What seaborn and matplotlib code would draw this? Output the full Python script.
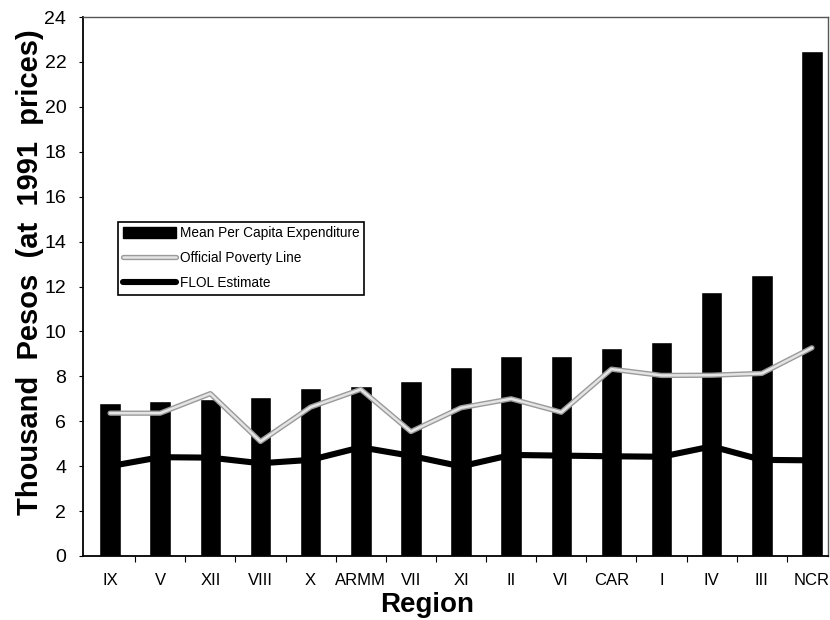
import matplotlib
matplotlib.use("Agg")
import matplotlib.pyplot as plt
import matplotlib.patheffects as pe
from matplotlib.lines import Line2D
from matplotlib.patches import Patch
import numpy as np
import pandas as pd
import seaborn as sns

# Regional data, thousand pesos at 1991 prices
regions = ["IX", "V", "XII", "VIII", "X", "ARMM", "VII", "XI", "II", "VI",
           "CAR", "I", "IV", "III", "NCR"]
mean_expenditure = [6.8, 6.9, 7.0, 7.1, 7.5, 7.55, 7.8, 8.4, 8.9, 8.9,
                    9.25, 9.55, 11.75, 12.5, 22.5]
official_poverty_line = [6.36, 6.36, 7.23, 5.10, 6.63, 7.42, 5.54, 6.60, 7.00,
                         6.40, 8.32, 8.04, 8.05, 8.13, 9.27]
flol_estimate = [4.0, 4.4, 4.38, 4.13, 4.28, 4.84, 4.46, 3.99, 4.50, 4.47,
                 4.44, 4.42, 4.88, 4.28, 4.26]
y_ticks = list(range(0, 25, 2))

df = pd.DataFrame({
    "Region": regions,
    "Mean": mean_expenditure,
    "Poverty": official_poverty_line,
    "FLOL": flol_estimate,
})

sns.set_style("white")
plt.rcParams["font.family"] = ["Liberation Sans", "DejaVu Sans"]
plt.rcParams.update({
    "text.color": "black",
    "axes.labelcolor": "black",
    "xtick.color": "black",
    "ytick.color": "black",
})

fig = plt.figure(figsize=(8.3, 6.2), dpi=100)
ax = fig.add_axes([83 / 830, 1 - 556 / 620, 745 / 830, 539 / 620])

sns.barplot(data=df, x="Region", y="Mean", color="black", width=0.43,
            saturation=1, ax=ax, zorder=2)

poverty_style = dict(color="#e4e4e4", linewidth=1.8,
                     path_effects=[pe.Stroke(linewidth=3.8, foreground="#9a9a9a"),
                                   pe.Normal()])
flol_style = dict(color="black", linewidth=4.4)

sns.lineplot(data=df, x="Region", y="FLOL", sort=False, ax=ax, zorder=3,
             **flol_style)
sns.lineplot(data=df, x="Region", y="Poverty", sort=False, ax=ax, zorder=4,
             **poverty_style)

ax.set_xlim(-0.54, 14.32)
ax.set_ylim(0, 24)
ax.set_yticks(y_ticks)
ax.set_yticklabels([str(v) for v in y_ticks], fontsize=14)

# Ticks between categories, labels centred under bars
ax.set_xticks(np.arange(len(regions)))
ax.set_xticklabels(regions, fontsize=12)
ax.set_xticks(np.arange(len(regions) - 1) + 0.5, minor=True)
ax.tick_params(axis="x", which="major", length=0, pad=12)
ax.tick_params(axis="x", which="minor", length=4, width=0.8, color="black",
               direction="out", bottom=True)
ax.tick_params(axis="y", length=3, width=0.8, color="black", direction="out",
               left=True, pad=9)

for side in ("left", "bottom"):
    ax.spines[side].set_color("black")
    ax.spines[side].set_linewidth(1.3)
for side in ("top", "right"):
    ax.spines[side].set_color("#555555")
    ax.spines[side].set_linewidth(1.0)
    ax.spines[side].set_linestyle((0, (1, 1)))

ax.set_ylabel("Thousand  Pesos  (at  1991  prices)", fontsize=21,
              fontweight="bold")
ax.yaxis.set_label_coords(-0.052, 0.526)
ax.set_xlabel("Region", fontsize=20, fontweight="bold")
ax.xaxis.set_label_coords(0.462, -0.066)

handles = [
    Patch(facecolor="black", edgecolor="black"),
    Line2D([], [], **poverty_style),
    Line2D([], [], **flol_style),
]
labels = ["Mean Per Capita Expenditure", "Official Poverty Line", "FLOL Estimate"]
leg = ax.legend(handles, labels, loc="upper left",
                bbox_to_anchor=(0.038, 0.633), frameon=True, fancybox=False,
                edgecolor="black", framealpha=1, borderpad=0.35,
                handlelength=3.9, handleheight=0.8, handletextpad=0.3,
                labelspacing=0.8, prop={"size": 9.8})
leg.get_frame().set_linewidth(1.2)

fig.savefig("out.png", dpi=100, facecolor="white")
